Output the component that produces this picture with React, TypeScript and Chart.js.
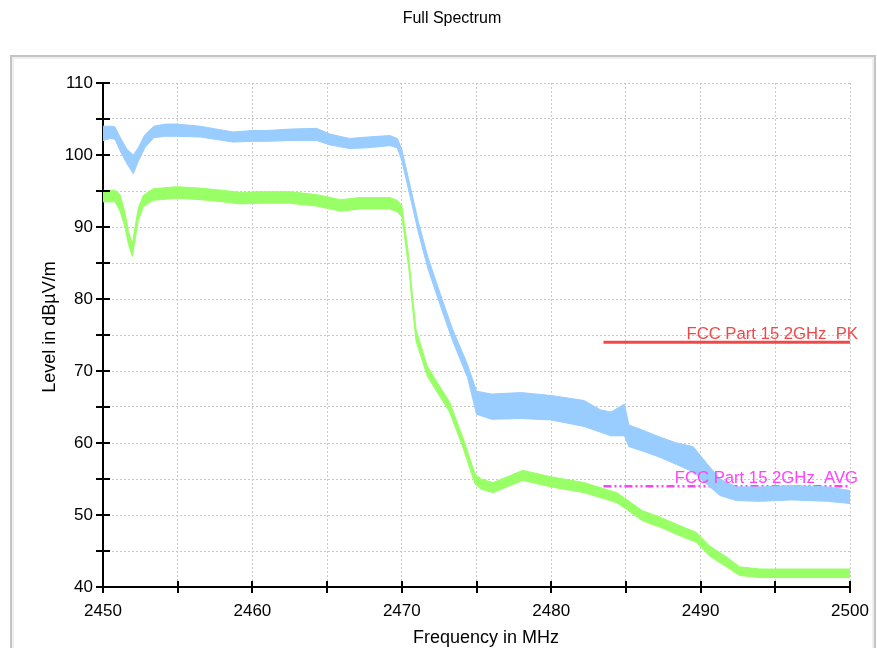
import React, { useEffect, useRef } from 'react';
import { Chart, registerables } from 'chart.js';

Chart.register(...registerables);

// Peak trace (MHz, band lower / upper in dBµV/m)
const pkFreq = [2450.0, 2450.5, 2450.8, 2451.14, 2451.6, 2452.03, 2452.36, 2452.8, 2453.4, 2454.2, 2454.9, 2456.5, 2458.7, 2460.0, 2461.0, 2462.5, 2464.3, 2465.2, 2466.5, 2467.7, 2469.2, 2469.7, 2470.0, 2470.55, 2471.1, 2471.75, 2472.56, 2473.4, 2474.4, 2475.0, 2476.0, 2478.0, 2480.0, 2482.2, 2483.3, 2484.0, 2484.9, 2485.2, 2486.1, 2487.3, 2488.4, 2489.5, 2490.4, 2491.3, 2492.4, 2494.0, 2496.1, 2498.5, 2500.0];
const pkLow = [102.0, 102.3, 102.2, 100.6, 98.8, 97.4, 99.1, 101.0, 102.4, 102.6, 102.6, 102.5, 101.8, 101.9, 101.9, 102.0, 102.0, 101.4, 100.9, 101.0, 101.3, 101.0, 99.2, 94.3, 89.3, 84.2, 79.2, 74.2, 69.1, 64.0, 63.3, 63.4, 63.2, 62.3, 61.5, 61.0, 61.0, 59.5, 58.9, 58.0, 57.0, 56.0, 54.3, 52.7, 52.0, 51.9, 52.1, 51.9, 51.6];
const pkHigh = [104.0, 104.0, 103.9, 102.5, 100.8, 100.0, 101.0, 102.8, 104.0, 104.3, 104.3, 104.0, 103.2, 103.4, 103.4, 103.6, 103.7, 102.9, 102.3, 102.5, 102.7, 102.3, 100.8, 95.8, 90.8, 85.8, 80.8, 75.8, 70.9, 67.2, 66.8, 67.0, 66.6, 65.9, 64.6, 64.3, 65.4, 62.5, 61.8, 60.8, 60.0, 59.5, 57.2, 55.0, 53.9, 53.9, 54.1, 53.9, 53.4];

// Average trace
const avFreq = [2450.0, 2450.8, 2451.14, 2451.47, 2451.7, 2451.97, 2452.14, 2452.36, 2452.7, 2453.35, 2454.93, 2456.5, 2458.0, 2459.2, 2460.5, 2462.5, 2464.3, 2465.9, 2467.2, 2469.2, 2469.7, 2470.0, 2470.15, 2470.47, 2470.7, 2470.95, 2471.7, 2472.5, 2473.2, 2474.1, 2474.9, 2475.3, 2476.1, 2478.1, 2480.0, 2482.2, 2484.4, 2485.1, 2486.1, 2487.3, 2488.4, 2489.7, 2490.6, 2491.8, 2492.6, 2494.0, 2497.0, 2500.0];
const avLow = [93.5, 93.5, 92.2, 90.0, 87.6, 85.9, 88.1, 90.9, 92.8, 93.7, 94.0, 93.8, 93.5, 93.2, 93.3, 93.3, 92.9, 92.2, 92.5, 92.5, 92.1, 91.4, 89.2, 84.2, 79.2, 74.2, 69.3, 66.6, 64.3, 59.3, 54.3, 53.6, 53.1, 54.8, 53.9, 53.1, 51.7, 50.7, 49.2, 48.3, 47.3, 46.2, 44.3, 42.7, 41.6, 41.3, 41.3, 41.3];
const avHigh = [95.1, 95.1, 94.5, 92.0, 89.4, 87.7, 89.9, 92.6, 94.4, 95.3, 95.6, 95.4, 95.1, 94.8, 94.9, 94.9, 94.5, 93.8, 94.1, 94.1, 93.7, 93.0, 90.8, 85.8, 80.8, 75.8, 70.7, 68.0, 65.7, 60.7, 55.7, 55.0, 54.5, 56.2, 55.3, 54.5, 53.1, 52.1, 50.6, 49.7, 48.7, 47.6, 45.7, 44.1, 42.8, 42.5, 42.5, 42.5];

// Limit lines
const limitFreq = [2483.5, 2500];
const pkLimit = [74, 74];
const avLimit = [54, 54];
const pkLimitName = 'FCC Part 15 2GHz  PK';
const avLimitName = 'FCC Part 15 2GHz  AVG';

// Axes
const xTickValues = [2450, 2455, 2460, 2465, 2470, 2475, 2480, 2485, 2490, 2495, 2500];
const yTickValues = [40, 45, 50, 55, 60, 65, 70, 75, 80, 85, 90, 95, 100, 105, 110];
const titleText = 'Full Spectrum';
const xTitle = 'Frequency in MHz';
const yTitle = 'Level in dBµV/m';

const FONT = '"Liberation Sans", Arial, Helvetica, sans-serif';
const PK_COLOR = '#99ccff';
const AV_COLOR = '#99ff66';
const PK_LIMIT_COLOR = '#f04848';
const AV_LIMIT_COLOR = '#ff40ff';

const pts = (xs: number[], ys: number[]) => xs.map((x, i) => ({ x, y: ys[i] }));

const decor = {
  id: 'decor',
  beforeDraw(chart: any) {
    const ctx = chart.ctx;
    ctx.save();
    ctx.fillStyle = '#ffffff';
    ctx.fillRect(0, 0, chart.width, chart.height);
    ctx.strokeStyle = '#c4c4c4';
    ctx.lineWidth = 2;
    ctx.strokeRect(11, 56, 864, 640);
    ctx.strokeStyle = '#efefef';
    ctx.lineWidth = 2;
    ctx.strokeRect(13, 58, 860, 636);
    ctx.restore();
  },
  afterDraw(chart: any) {
    const { ctx, chartArea } = chart;
    const xs = chart.scales.x;
    const ys = chart.scales.y;
    ctx.save();
    ctx.strokeStyle = '#000';
    ctx.lineWidth = 2;
    yTickValues.forEach((v) => {
      const py = Math.round(ys.getPixelForValue(v));
      ctx.beginPath();
      ctx.moveTo(chartArea.left - 7, py);
      ctx.lineTo(chartArea.left + 7, py);
      ctx.stroke();
    });
    xTickValues.forEach((v) => {
      const px = Math.round(xs.getPixelForValue(v));
      ctx.beginPath();
      ctx.moveTo(px, chartArea.bottom - 6);
      ctx.lineTo(px, chartArea.bottom + 6);
      ctx.stroke();
    });

    ctx.fillStyle = '#000';
    ctx.textAlign = 'center';
    ctx.textBaseline = 'middle';
    ctx.font = `16px ${FONT}`;
    ctx.fillText(titleText, 452, 19);
    ctx.font = `18px ${FONT}`;
    ctx.fillText(xTitle, 486, 638);
    ctx.save();
    ctx.translate(50, 327);
    ctx.rotate(-Math.PI / 2);
    ctx.fillText(yTitle, 0, 0);
    ctx.restore();

    ctx.textAlign = 'right';
    ctx.textBaseline = 'alphabetic';
    ctx.font = `16.7px ${FONT}`;
    ctx.fillStyle = PK_LIMIT_COLOR;
    ctx.fillText(pkLimitName, chartArea.right + 8, ys.getPixelForValue(pkLimit[0]) - 3);
    ctx.fillStyle = AV_LIMIT_COLOR;
    ctx.fillText(avLimitName, chartArea.right + 8, ys.getPixelForValue(avLimit[0]) - 3);
    ctx.restore();
  },
};

export default function App() {
  const ref = useRef<HTMLCanvasElement | null>(null);
  useEffect(() => {
    if (!ref.current) return;
    const chart = new Chart(ref.current, {
      type: 'line',
      data: {
        datasets: [
          { data: pts(pkFreq, pkHigh), borderColor: PK_COLOR, borderWidth: 1, pointRadius: 0, fill: false, tension: 0 },
          { data: pts(pkFreq, pkLow), borderColor: PK_COLOR, borderWidth: 1, pointRadius: 0, fill: '-1', backgroundColor: PK_COLOR, tension: 0 },
          { data: pts(avFreq, avHigh), borderColor: AV_COLOR, borderWidth: 1, pointRadius: 0, fill: false, tension: 0 },
          { data: pts(avFreq, avLow), borderColor: AV_COLOR, borderWidth: 1, pointRadius: 0, fill: '-1', backgroundColor: AV_COLOR, tension: 0 },
          { data: pts(limitFreq, pkLimit), borderColor: PK_LIMIT_COLOR, borderWidth: 3, pointRadius: 0, fill: false },
          { data: pts(limitFreq, avLimit), borderColor: AV_LIMIT_COLOR, borderWidth: 2.5, borderDash: [8, 3, 2, 3, 2, 3], pointRadius: 0, fill: false },
        ],
      },
      options: {
        animation: false,
        responsive: false,
        devicePixelRatio: 1,
        layout: { padding: { top: 83, left: 0, right: 27, bottom: 0 } },
        plugins: { legend: { display: false }, title: { display: false }, tooltip: { enabled: false } },
        scales: {
          x: {
            type: 'linear',
            min: 2450,
            max: 2500,
            afterFit: (s: any) => { s.height = 61; s.paddingLeft = 0; s.paddingRight = 0; },
            afterBuildTicks: (s: any) => { s.ticks = xTickValues.map((v) => ({ value: v })); },
            ticks: {
              padding: 14,
              color: '#000',
              font: { size: 17, family: FONT },
              maxRotation: 0,
              autoSkip: false,
              callback: (v: any) => (Number(v) % 10 === 0 ? String(v) : ''),
            },
            grid: { color: '#c8c8c8', lineWidth: 1, drawTicks: false },
            border: { color: '#000', width: 2, dash: [2, 2] },
          },
          y: {
            type: 'linear',
            min: 40,
            max: 110,
            afterFit: (s: any) => { s.width = 103; s.paddingTop = 0; s.paddingBottom = 0; },
            afterBuildTicks: (s: any) => { s.ticks = yTickValues.map((v) => ({ value: v })); },
            ticks: {
              padding: 10,
              color: '#000',
              font: { size: 17, family: FONT },
              autoSkip: false,
              callback: (v: any) => (Number(v) % 10 === 0 ? String(v) : ''),
            },
            grid: { color: '#c8c8c8', lineWidth: 1, drawTicks: false },
            border: { color: '#000', width: 2, dash: [2, 2] },
          },
        },
      },
      plugins: [decor],
    });
    return () => chart.destroy();
  }, []);
  return (
    <div style={{ position: 'fixed', left: 0, top: 0, width: 877, height: 648 }}>
      <canvas ref={ref} width={877} height={648} style={{ display: 'block' }} />
    </div>
  );
}
